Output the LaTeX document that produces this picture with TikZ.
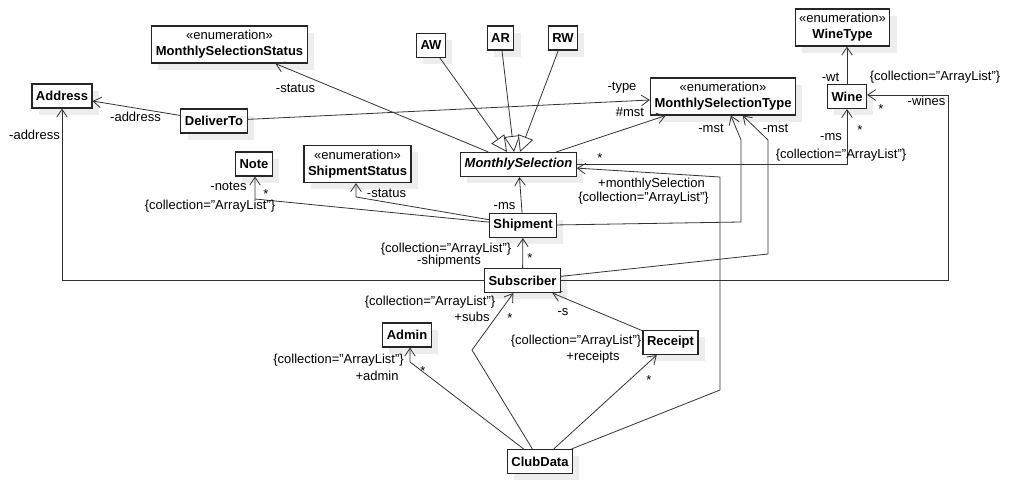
\documentclass[tikz,border=0pt]{standalone}
\usepackage{fontspec}
\setmainfont{Liberation Sans}
\usetikzlibrary{arrows.meta,shadows}

\newcommand{\collAL}{\{collection="ArrayList"\}}

\begin{document}
\begin{tikzpicture}[
    x=0.75pt, y=-0.75pt,
    cls/.style={rectangle, draw=black!85, line width=0.8pt, fill=white, inner xsep=3pt, inner ysep=2pt, minimum height=18pt, font=\fontsize{9.75}{12}\selectfont\bfseries, drop shadow={shadow xshift=5pt, shadow yshift=-5pt, draw=none, fill=black!7, opacity=1}},
    enumbox/.style={cls, align=center, minimum height=27.75pt, font=\fontsize{9.75}{12}\selectfont},
    abstractbox/.style={cls, font=\fontsize{9.75}{12}\selectfont\bfseries\itshape},
    assoc/.style={-{Straight Barb[length=6pt,width=8pt]}, draw=black!80, line width=0.6pt},
    gen/.style={-{Triangle[open,fill=white,length=12pt,width=12pt]}, draw=black!80, line width=0.6pt},
    lbl/.style={font=\fontsize{9.75}{12}\selectfont, inner sep=0pt},
]
\useasboundingbox (0,0) rectangle (1009,484);

% Classes
\node[enumbox] (mss) at (229.5,44.5) {«enumeration»\\\textbf{MonthlySelectionStatus}};
\node[cls] (addr) at (62,96) {Address};
\node[cls] (deliv) at (214,121) {DeliverTo};
\node[cls] (aw) at (431,45.5) {AW};
\node[cls] (ar) at (500.5,38) {AR};
\node[cls] (rw) at (563,38) {RW};
\node[abstractbox] (ms) at (518.5,164.5) {MonthlySelection};
\node[enumbox] (mst) at (723,96.5) {«enumeration»\\\textbf{MonthlySelectionType}};
\node[enumbox] (wt) at (842.5,27.5) {«enumeration»\\\textbf{WineType}};
\node[cls] (wine) at (847,96.5) {Wine};
\node[cls] (note) at (254,164) {Note};
\node[enumbox] (ss) at (357.5,164) {«enumeration»\\\textbf{ShipmentStatus}};
\node[cls] (ship) at (523,225.5) {Shipment};
\node[cls] (sub) at (522.5,280.5) {Subscriber};
\node[cls] (adm) at (407,335) {Admin};
\node[cls] (rcpt) at (670.5,342.5) {Receipt};
\node[cls] (club) at (540,461.5) {ClubData};

% Bends
\coordinate (noteBend) at (255,199);
\coordinate (ssBend) at (356,197);
\coordinate (shipMstA) at (741,222);
\coordinate (shipMstB) at (741,140);
\coordinate (subMstA) at (768,254);
\coordinate (subMstB) at (768,140);
\coordinate (wineBend) at (948,95);
\coordinate (subsBend) at (472,350);
\coordinate (admBend) at (410,362);
\coordinate (msBendA) at (720,390);
\coordinate (msBendB) at (720,177);

% Generalizations
\draw[gen] (aw) -- ([xshift=-8.6pt]ms.north);
\draw[gen] (ar) -- ([xshift=-3.4pt]ms.north);
\draw[gen] (rw) -- ([xshift=1.1pt]ms.north);

% Associations
\draw[assoc] (ms) -- (mss);
\draw[assoc] (deliv) -- (addr);
\draw[assoc] (deliv) -- (mst);
\draw[assoc] (ms) -- (mst);
\draw[assoc] (ship) -- (ms);
\draw[assoc] (ship) -- (noteBend) -- (noteBend |- note.south);
\draw[assoc] (ship) -- (ssBend) -- (ssBend |- ss.south);
\draw[assoc] (ship) -- (shipMstA) -- (shipMstB) -- (mst);
\draw[assoc] (sub) -- (subMstA) -- (subMstB) -- (mst);
\draw[assoc] (sub) -- (ship);
\draw[assoc] (sub) -| (addr);
\draw[assoc] (sub) -| (wineBend) -- (wineBend -| wine.east);
\draw[assoc] (wine.north) -- (wine.north |- wt.south);
\draw[assoc] (ms) -| (wine);
\draw[assoc] (rcpt) -- (sub);
\draw[assoc] (club) -- (rcpt);
\draw[assoc] (club) -- (subsBend) -- (sub);
\draw[assoc] (club) -- (admBend) -- (admBend |- adm.south);
\draw[assoc] (club) -- (msBendA) -- (msBendB) -- (ms);

% Role names and multiplicities
\node[lbl] (lMss) at (295.5,88.5) {-status};
\node[lbl] (lAddr) at (135.5,116.5) {-address};
\node[lbl] (lSubAddr) at (34.5,135) {-address};
\node[lbl] (lType) at (622,88) {-type};
\node[lbl] (lMst) at (630,112) {\#mst};
\node[lbl] (lSs) at (386.5,193) {-status};
\node[lbl] (lNotes) at (228.5,186) {-notes};
\node[lbl] (mNotes) at (266,194) {*};
\node[lbl] (cNotes) at (210,206) {\collAL};
\node[lbl] (lShipMs) at (504.5,206) {-ms};
\node[lbl] (cShips) at (446,249) {\collAL};
\node[lbl] (lShips) at (449,261) {-shipments};
\node[lbl] (mShips) at (530,258) {*};
\node[lbl] (lMstA) at (711,128) {-mst};
\node[lbl] (lMstB) at (775.5,128) {-mst};
\node[lbl] (lWt) at (830.5,77) {-wt};
\node[lbl] (cWines) at (935,77) {\collAL};
\node[lbl] (lWines) at (926.5,101) {-wines};
\node[lbl] (mWines) at (881,109) {*};
\node[lbl] (lWineMs) at (831,137) {-ms};
\node[lbl] (mWineMs) at (860,130) {*};
\node[lbl] (cWineMs) at (841,155) {\collAL};
\node[lbl] (mMs) at (600,158) {*};
\node[lbl] (lMsel) at (651.5,184) {+monthlySelection};
\node[lbl] (cMsel) at (643.5,198) {\collAL};
\node[lbl] (cSubs) at (430,302) {\collAL};
\node[lbl] (lSubs) at (472,317) {+subs};
\node[lbl] (mSubs) at (510,318) {*};
\node[lbl] (lS) at (563,312) {-s};
\node[lbl] (cRcpt) at (576,341) {\collAL};
\node[lbl] (lRcpt) at (593,357) {+receipts};
\node[lbl] (mRcpt) at (649,380) {*};
\node[lbl] (cAdm) at (338.5,360) {\collAL};
\node[lbl] (lAdm) at (377,376) {+admin};
\node[lbl] (mAdm) at (423,371) {*};

\end{tikzpicture}
\end{document}
